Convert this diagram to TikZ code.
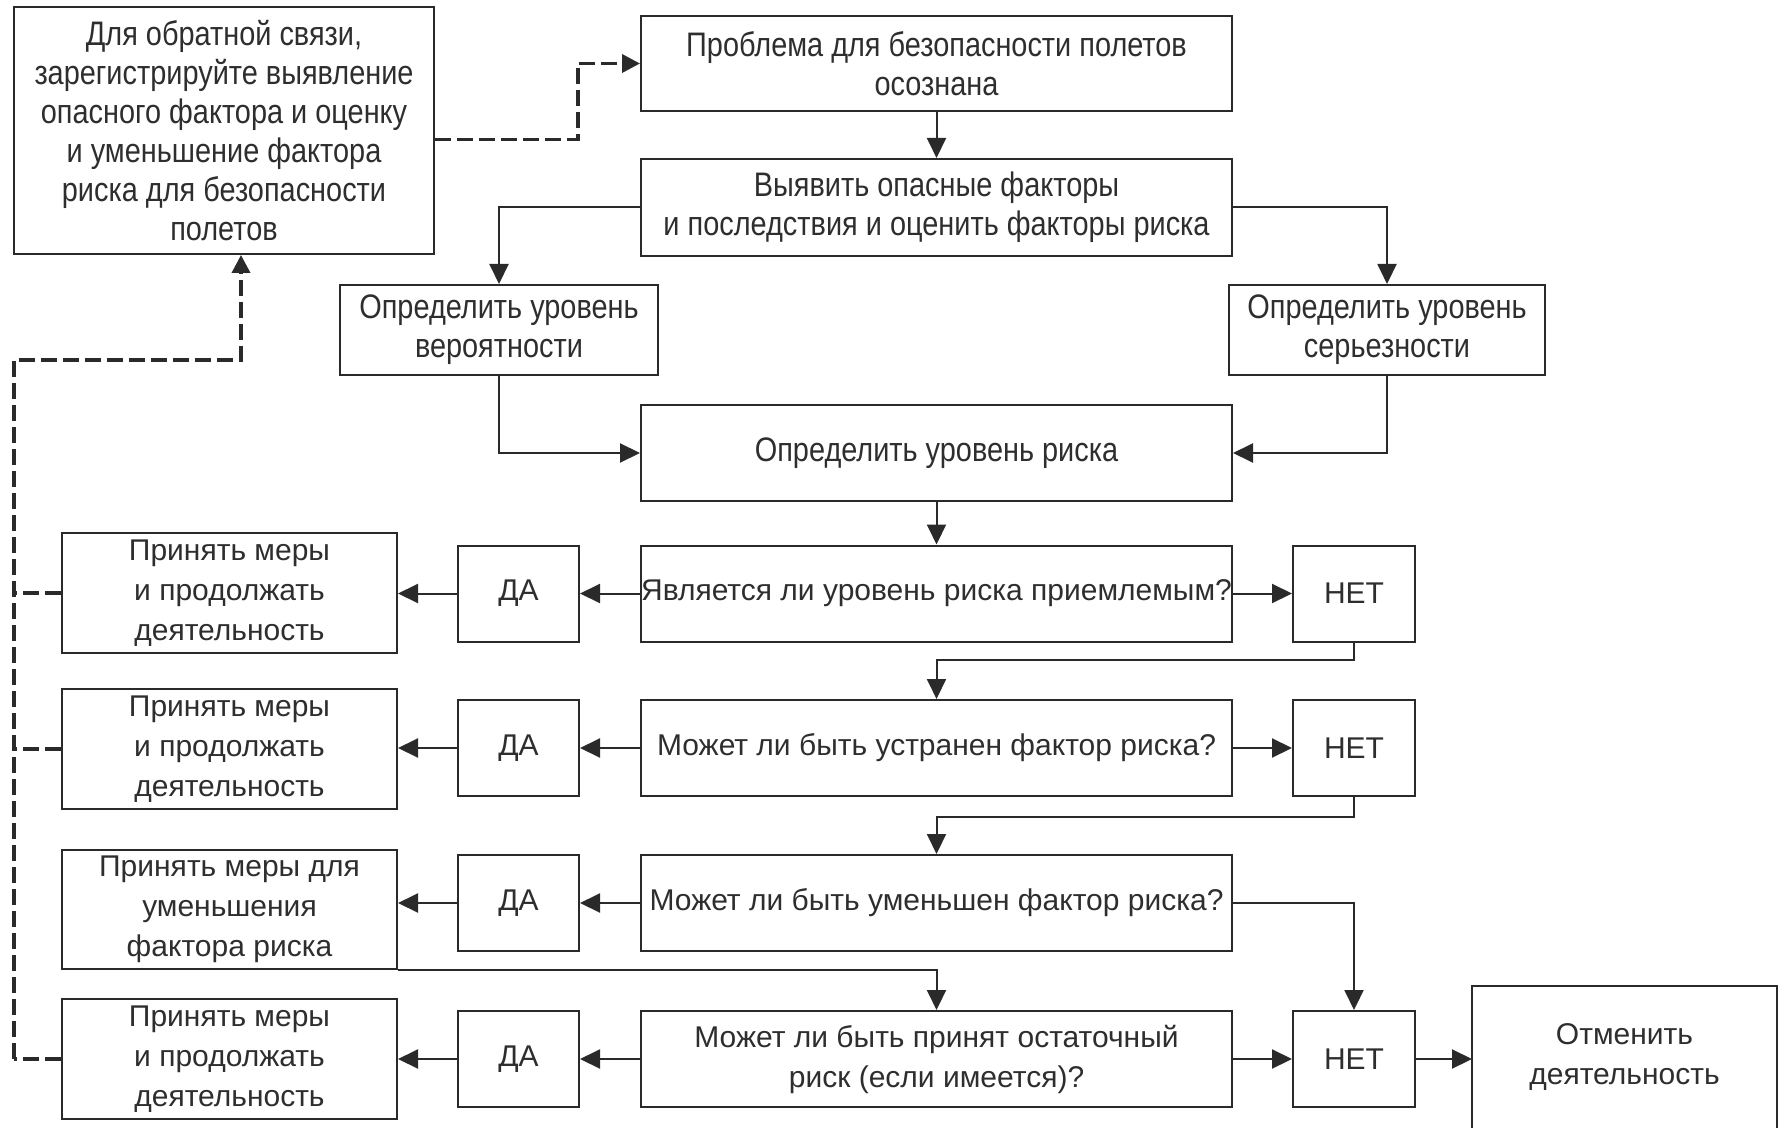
\documentclass[tikz,border=0pt]{standalone}
\usepackage{fontspec}
\setmainfont{Liberation Sans}
\newfontfamily\narrowfont[FakeStretch=0.85]{Liberation Sans}
\usepackage{xcolor}
\usepackage{tikz}
\usetikzlibrary{arrows.meta}
\definecolor{linegray}{HTML}{2A2A2A}
\definecolor{textgray}{HTML}{2E2E2E}

\begin{document}
\begin{tikzpicture}[x=0.5pt, y=-0.5pt,
  box/.style={draw=linegray, line width=1pt, inner sep=0pt, align=center, text=textgray},
  upbox/.style={box, font=\narrowfont\fontsize{17}{19.5}\selectfont},
  lowbox/.style={box, font=\fontsize{15}{20}\selectfont},
  qbox/.style={lowbox, minimum width=295.5pt, minimum height=48pt},
  yesbox/.style={lowbox, minimum width=60.5pt, minimum height=48pt},
  nobox/.style={lowbox, minimum width=61pt, minimum height=48pt},
  actbox/.style={lowbox, minimum width=167.5pt, minimum height=60pt},
  arr/.style={draw=linegray, line width=1pt, -{Triangle[length=10pt,width=9.5pt]}},
  fbline/.style={draw=linegray, line width=1.8pt, dash pattern=on 8pt off 3pt},
  fbarr/.style={fbline, -{Triangle[length=9pt,width=9pt]}}]
\useasboundingbox (0,0) rectangle (1781,1128);

\node[upbox, minimum width=210pt, minimum height=123.5pt] (fb) at (224,130.5)
  {Для обратной связи,\\ зарегистрируйте выявление\\ опасного фактора и оценку\\ и уменьшение фактора\\ риска для безопасности\\ полетов};
\node[upbox, minimum width=295.5pt, minimum height=47.5pt] (aware) at (936.5,63.5)
  {Проблема для безопасности полетов\\ осознана};
\node[upbox, minimum width=295.5pt, minimum height=48.5pt] (ident) at (936.5,207.5)
  {Выявить опасные факторы\\ и последствия и оценить факторы риска};
\node[upbox, minimum width=159pt, minimum height=45pt] (lik) at (499,330)
  {Определить уровень\\ вероятности};
\node[upbox, minimum width=158pt, minimum height=45pt] (sev) at (1387,330)
  {Определить уровень\\ серьезности};
\node[upbox, minimum width=295.5pt, minimum height=48pt] (risk) at (936.5,453)
  {Определить уровень риска};

\node[qbox] (q1) at (936.5,593.5) {Является ли уровень риска приемлемым?};
\node[qbox] (q2) at (936.5,748) {Может ли быть устранен фактор риска?};
\node[qbox] (q3) at (936.5,903) {Может ли быть уменьшен фактор риска?};
\node[qbox] (q4) at (936.5,1059) {Может ли быть принят остаточный\\ риск (если имеется)?};

\foreach \i/\y in {1/593.5, 2/748, 3/903, 4/1059}
  \node[yesbox] (y\i) at (518.5,\y) {ДА};
\foreach \i/\y in {1/593.5, 2/748, 4/1059}
  \node[nobox] (n\i) at (1354,\y) {НЕТ};

\node[actbox] (act1) at (229.5,593) {Принять меры\\ и продолжать\\ деятельность};
\node[actbox] (act2) at (229.5,749) {Принять меры\\ и продолжать\\ деятельность};
\node[actbox, minimum height=59.5pt] (act3) at (229.5,909.5) {Принять меры для\\ уменьшения\\ фактора риска};
\node[actbox] (act4) at (229.5,1059) {Принять меры\\ и продолжать\\ деятельность};

\node[lowbox, draw=none, minimum width=151.5pt, minimum height=70.5pt] (stop) at (1624.5,1057.5)
  {Отменить\\ деятельность};
\draw[draw=linegray, line width=1pt] (stop.south west) |- (stop.north east) -- (stop.south east);

\draw[arr] (aware.south) -- (ident.north);
\draw[arr] (ident.west) -| (lik.north);
\draw[arr] (ident.east) -| (sev.north);
\draw[arr] (lik.south) |- (risk.west);
\draw[arr] (sev.south) |- (risk.east);
\draw[arr] (risk.south) -- (q1.north);
\foreach \i in {1,...,4} {
  \draw[arr] (q\i.west) -- (y\i.east);
  \draw[arr] (y\i.west) -- (y\i.west -| act\i.east);
}
\foreach \i in {1,2,4}
  \draw[arr] (q\i.east) -- (n\i.west);
\draw[arr] (n1.south) -- ++(0,-8.5pt) -| (q2.north);
\draw[arr] (n2.south) -- ++(0,-10pt) -| (q3.north);
\draw[arr] (q3.east) -| (n4.north);
\draw[arr] (act3.south east) -| (q4.north);
\draw[arr] (n4.east) -- (n4.east -| stop.west);

\coordinate (railtop) at (14,360);
\coordinate (railbot) at (14,1059);
\draw[fbarr] (railbot) -- (railtop) -| ([xshift=8.5pt]fb.south);
\foreach \i in {1,2,4}
  \draw[fbline] (act\i.west) -- (act\i.west -| railtop);
\draw[fbarr] ([yshift=-4.5pt]fb.east) -- ++(71.5pt,0) |- (aware.west);
\end{tikzpicture}
\end{document}
